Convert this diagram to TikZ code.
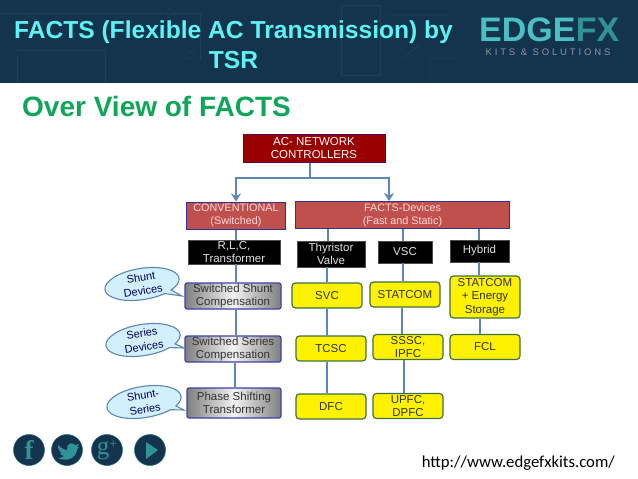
\documentclass[tikz,border=0pt]{standalone}
\usepackage{fontspec}
\setmainfont{Liberation Sans}
\newfontfamily\urlfont{Carlito}
\newfontfamily\iconfont{Liberation Serif}
\newfontfamily\spacedfont[LetterSpace=30]{Liberation Sans}
\usetikzlibrary{arrows.meta,shapes.callouts}
\definecolor{navy}{HTML}{14334C}
\definecolor{teal1}{HTML}{4BBFC4}
\definecolor{teal2}{HTML}{2F9398}
\definecolor{linkblue}{HTML}{5B86B5}
\definecolor{brick}{HTML}{C0504D}
\definecolor{titlecyan}{HTML}{5FF2F5}
\definecolor{headgreen}{HTML}{10A65A}
\begin{document}
\begin{tikzpicture}[x=1pt,y=-1pt,
  boxfont/.style={font=\fontsize{11.5}{13.3}\selectfont,align=center,inner sep=0pt},
  red1/.style={boxfont,fill=red!60!black,draw=violet!70!black,line width=1pt,text=white},
  red2/.style={boxfont,font=\fontsize{10.8}{13.3}\selectfont,fill=brick,draw=blue!45!black!80,line width=1pt,text=white!85!red,minimum height=27pt},
  blk/.style={boxfont,fill=black,draw=black!70,text=white!88!black},
  yel/.style={boxfont,fill=yellow,draw=green!25!black!75,line width=1.2pt,rounded corners=3.5pt,text=black!80,minimum width=70pt,minimum height=25pt},
  gry/.style={boxfont,left color=black!50,right color=black!50,middle color=white!95!black,draw=blue!55!black!75,line width=1.2pt,rounded corners=2pt,text=black!80,minimum width=96pt,minimum height=26pt},
  bub/.style={ellipse callout,boxfont,font=\fontsize{11}{14}\selectfont,fill=cyan!18!white,draw=linkblue,line width=1.1pt,text=blue!35!black,callout pointer arc=14,minimum width=75pt,minimum height=31pt,rotate=9},
  link/.style={draw=linkblue,line width=2pt},
  faint/.style={draw=white!6!navy,line width=.6pt},
  icon/.style={circle,fill=navy,draw=teal2!60!navy,line width=.5pt,minimum size=31pt,inner sep=0pt,text=teal2}]
  \useasboundingbox[fill=white] (0,0) rectangle (638,479);
  \fill[navy] (0,0) rectangle (638,83);
  \draw[faint] (341,5) rectangle (380,75);
  \draw[faint] (120,20) circle (4) (190,55) circle (4);
  \draw[faint] (0,13) -- (160,13) (160,13) -- (200,13) -- (200,60) (17,55) -- (17,83) (17,50) -- (105,50) -- (105,83);
  \draw[faint] (385,15) -- (450,15) (400,60) -- (420,45) (430,83) -- (430,58) -- (458,58);
  \draw[faint] (25,15) -- (50,25) -- (25,35) -- cycle (168,8) -- (178,13) -- (168,18) -- cycle;
  \node[font=\bfseries\fontsize{24.6}{30}\selectfont,text=titlecyan,align=center,inner sep=0pt] (title) at (233.5,44.5) {FACTS (Flexible AC Transmission) by\\TSR};
  \node[font=\bfseries\fontsize{28}{30}\selectfont,text=headgreen,anchor=west,inner sep=0pt] (over) at (22,106.5) {Over View of FACTS};
  \node[font=\bfseries\fontsize{34}{34}\selectfont,text=teal1,inner sep=0pt,anchor=west] (edge) at (479,29.5) {EDGE};
  \node[font=\bfseries\fontsize{34}{34}\selectfont,text=teal2,inner sep=0pt,anchor=west] (fx) at (edge.east) {FX};
  \node[font=\spacedfont\fontsize{9.5}{11}\selectfont,text=black!25!white!70!navy,inner sep=0pt] (kits) at (548,52) {KITS \& SOLUTIONS};
  \node[red1,minimum width=142pt,minimum height=28pt] (ac) at (314,148) {AC- NETWORK\\CONTROLLERS};
  \node[red2,minimum width=99pt] (conv) at (236,215.5) {CONVENTIONAL\\(Switched)};
  \node[red2,minimum width=214pt] (facts) at (402.5,215) {FACTS-Devices\\(Fast and Static)};
  \node[blk,minimum width=92pt,minimum height=24pt] (rlc) at (234,252) {R,L,C,\\Transformer};
  \node[blk,minimum width=68pt,minimum height=26pt] (thy) at (331,254) {Thyristor\\Valve};
  \node[blk,minimum width=54pt,minimum height=22pt] (vsc) at (405,252) {VSC};
  \node[blk,minimum width=59pt,minimum height=22pt] (hyb) at (479.5,251) {Hybrid};
  \node[gry] (shunt) at (233,296) {Switched Shunt\\Compensation};
  \node[gry] (series) at (233,349) {Switched Series\\Compensation};
  \node[gry,minimum width=94pt,minimum height=30pt] (phase) at (234,403) {Phase Shifting\\Transformer};
  \node[yel] (svc) at (327,295.5) {SVC};
  \node[yel] (stat) at (405,294.5) {STATCOM};
  \node[yel,minimum height=42pt] (stor) at (485,297) {STATCOM\\+ Energy\\Storage};
  \node[yel] (tcsc) at (331,348.5) {TCSC};
  \node[yel] (sssc) at (408,347) {SSSC,\\IPFC};
  \node[yel] (fcl) at (485,347) {FCL};
  \node[yel] (dfc) at (331,406.5) {DFC};
  \node[yel] (upfc) at (408,406) {UPFC,\\DPFC};
  \foreach \a/\b/\x in {conv/rlc/236,rlc/shunt/236,shunt/series/236,series/phase/235,
    facts/thy/328,thy/svc/327,svc/tcsc/327,tcsc/dfc/327,
    facts/vsc/403,vsc/stat/403,stat/sssc/402,sssc/upfc/404,
    facts/hyb/479,hyb/stor/479,stor/fcl/480}
    \draw[link] (\x,0 |- \a.south) -- (\x,0 |- \b.north);
  \coordinate (split) at (310,178);
  \draw[link] (ac.south -| split) -- (split);
  \draw[link,-{Stealth[length=8pt,width=10pt]}] (split) -| (conv.north);
  \draw[link,-{Stealth[length=8pt,width=10pt]}] (split) -| (389,0 |- facts.north);
  \coordinate (shunttip) at (182,296);
  \coordinate (seriestip) at (184,348);
  \coordinate (phasetip) at (184,410);
  \node[bub,callout absolute pointer={(shunttip)}] (bshunt) at (142,284) {Shunt\\Devices};
  \node[bub,callout absolute pointer={(seriestip)}] (bseries) at (143,340) {Series\\Devices};
  \node[bub,callout absolute pointer={(phasetip)}] (bphase) at (144,402) {Shunt-\\Series};
  \node[icon,font=\iconfont\bfseries\fontsize{27}{27}\selectfont] (fb) at (29,450) {f};
  \node[icon] (tw) at (67,450) {};
  \fill[teal2] (58,445) .. controls (62,449) and (65,450) .. (67,450) .. controls (66,444) and (72,441) .. (75,445) -- (79,444) -- (77,447) -- (79,447) -- (77,449) .. controls (77,456) and (69,463) .. (58,458) .. controls (61,458) and (63,457) .. (64,456) .. controls (61,455) and (60,454) .. (60,453) -- (62,453) .. controls (59,451) and (58,449) .. (58,445) -- cycle;
  \node[icon,font=\iconfont\fontsize{25}{25}\selectfont] (gp) at (107,450) {g\raisebox{6pt}{\fontsize{14}{14}\selectfont+}};
  \node[icon] (play) at (150,450) {};
  \fill[teal2] (146,442) -- (158,450) -- (146,459) -- cycle;
  \node[font=\urlfont\fontsize{16.7}{18}\selectfont,inner sep=0pt,anchor=east] (url) at (615,463) {http://www.edgefxkits.com/};
\end{tikzpicture}
\end{document}
